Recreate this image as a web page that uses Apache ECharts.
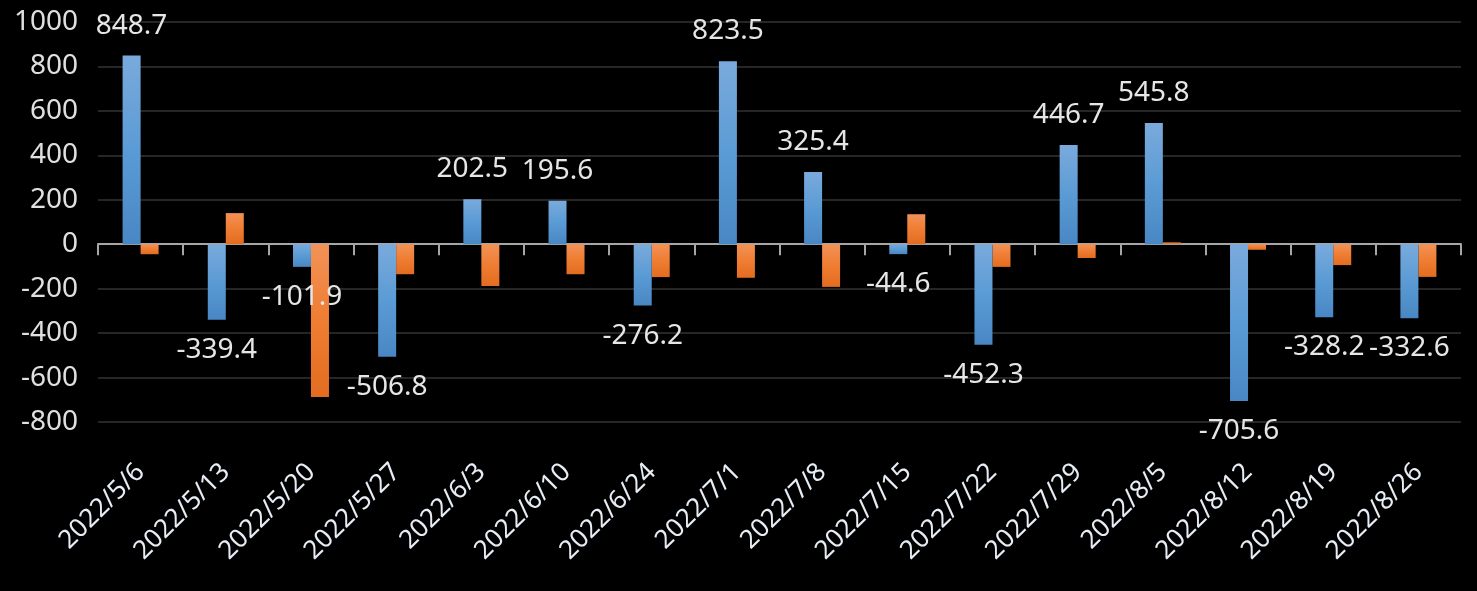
<!DOCTYPE html>
<html>
<head>
<meta charset="utf-8">
<script src="https://cdn.jsdelivr.net/npm/echarts@6/dist/echarts.min.js"></script>
<style>
  html, body { margin: 0; padding: 0; background: #000; }
  #chart { width: 1477px; height: 591px; }
</style>
</head>
<body>
<div id="chart"></div>
<script>
const categories = ['2022/5/6','2022/5/13','2022/5/20','2022/5/27','2022/6/3','2022/6/10','2022/6/24','2022/7/1','2022/7/8','2022/7/15','2022/7/22','2022/7/29','2022/8/5','2022/8/12','2022/8/19','2022/8/26'];
const blueValues = [848.7, -339.4, -101.9, -506.8, 202.5, 195.6, -276.2, 823.5, 325.4, -44.6, -452.3, 446.7, 545.8, -705.6, -328.2, -332.6];
const orangeValues = [-45, 140, -688, -135, -188, -135, -148, -151, -192, 135, -102, -62, 8, -25, -94, -147];
const yTicks = { min: -800, max: 1000, interval: 200 };

const font = 'Noto Sans';
const chart = echarts.init(document.getElementById('chart'));

function grad(c0, c1, c2) {
  return new echarts.graphic.LinearGradient(0, 0, 0, 1, [
    { offset: 0, color: c0 }, { offset: 0.5, color: c1 }, { offset: 1, color: c2 }
  ]);
}

chart.setOption({
  backgroundColor: '#000000',
  animation: false,
  grid: { left: 98, right: 16, top: 22, bottom: 169, containLabel: false },
  xAxis: [
    {
      type: 'category',
      data: categories,
      position: 'bottom',
      axisLine: { show: false, onZero: false },
      axisTick: { show: false },
      axisLabel: {
        rotate: 45, margin: 46, color: '#e6edf5', fontSize: 26, fontFamily: font,
        interval: 0
      },
      splitLine: { show: false }
    },
    {
      type: 'category',
      data: categories,
      position: 'bottom',
      axisLine: { show: true, onZero: true, lineStyle: { color: '#a6a6a6', width: 2 } },
      axisTick: { show: true, length: 11, alignWithLabel: false, lineStyle: { color: '#a6a6a6', width: 2 } },
      axisLabel: { show: false },
      splitLine: { show: false }
    }
  ],
  yAxis: {
    type: 'value',
    min: yTicks.min, max: yTicks.max, interval: yTicks.interval,
    axisLine: { show: false },
    axisTick: { show: false },
    axisLabel: { color: '#e0e0e0', fontSize: 28, fontFamily: font, margin: 20, formatter: v => String(v) },
    splitLine: { show: true, lineStyle: { color: '#262626', width: 2 } }
  },
  series: [
    {
      type: 'bar',
      xAxisIndex: 0,
      data: blueValues.map(v => ({ value: v, label: { position: v < 0 ? 'bottom' : 'top' } })),
      barWidth: 18,
      barGap: '0%',
      itemStyle: { color: grad('#7aaadc', '#5b9bd5', '#4887c3') },
      label: {
        show: true,
        distance: 16,
        color: '#e6e6e6',
        fontSize: 28,
        fontFamily: font,
        formatter: p => p.value.toFixed(1)
      },
      z: 3
    },
    {
      type: 'bar',
      xAxisIndex: 0,
      data: orangeValues,
      barWidth: 18,
      barGap: '0%',
      itemStyle: { color: grad('#f29257', '#ef7d32', '#e36c20') },
      z: 2
    }
  ]
});
</script>
</body>
</html>
